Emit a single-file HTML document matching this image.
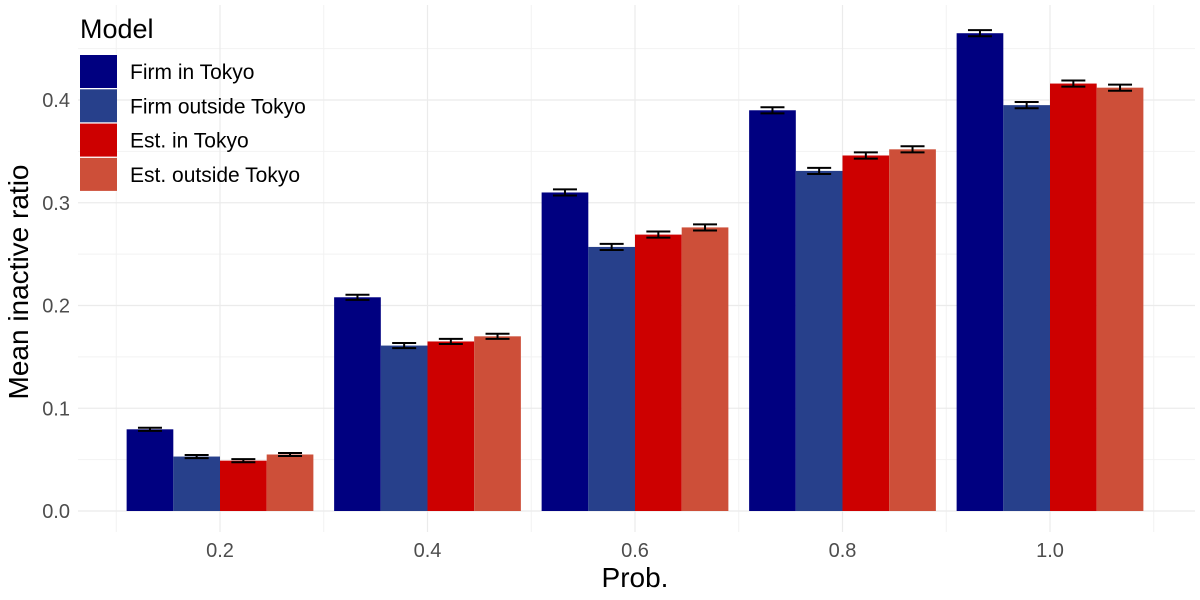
<!DOCTYPE html>
<html><head><meta charset="utf-8"><style>
html,body{margin:0;padding:0;background:#fff;}
svg{display:block;font-family:"Liberation Sans",sans-serif;}
</style></head><body>
<svg id="chart" width="1200" height="600"></svg>
<script>
const categories = ["0.2","0.4","0.6","0.8","1.0"];
const seriesNames = ["Firm in Tokyo","Firm outside Tokyo","Est. in Tokyo","Est. outside Tokyo"];
const firmTokyo = [0.0795,0.208,0.310,0.390,0.465];
const firmOutside = [0.053,0.161,0.257,0.331,0.395];
const estTokyo = [0.049,0.165,0.269,0.346,0.416];
const estOutside = [0.055,0.170,0.276,0.352,0.412];
const errHalf = [0.0015,0.0025,0.003,0.003,0.003];
const yTicks = [0,0.1,0.2,0.3,0.4];
const yTickLabels = ["0.0","0.1","0.2","0.3","0.4"];
const colors = ["#000080","#27408b","#cd0000","#cd4f39"];
const series = [firmTokyo,firmOutside,estTokyo,estOutside];

const svg = document.getElementById('chart');
const NS = "http://www.w3.org/2000/svg";
function mk(tag, attrs, parent){const e=document.createElementNS(NS,tag);for(const k in attrs)e.setAttribute(k,attrs[k]);(parent||svg).appendChild(e);return e;}
const y0=511, pxPerUnit=1027.5;
function yS(v){return y0 - v*pxPerUnit;}
const step=207.5, x0=220;
function xS(i){return x0 + i*step;}
const groupW = step*0.9, barW = groupW/4;

const grid = mk('g',{});


for(let v=0.05; v<0.48; v+=0.1){mk('line',{x1:78,x2:1195,y1:yS(v),y2:yS(v),stroke:'#f2f2f2','stroke-width':1},grid);}
for(let i=0;i<=categories.length;i++){const x=xS(i)-step/2;mk('line',{x1:x,x2:x,y1:5,y2:532,stroke:'#f2f2f2','stroke-width':1},grid);}
yTicks.forEach(v=>mk('line',{x1:78,x2:1195,y1:yS(v),y2:yS(v),stroke:'#ebebeb','stroke-width':1.2},grid));
categories.forEach((c,i)=>mk('line',{x1:xS(i),x2:xS(i),y1:5,y2:532,stroke:'#ebebeb','stroke-width':1.2},grid));

series.forEach((s,si)=>{
  s.forEach((v,i)=>{
    const x = xS(i)-groupW/2 + si*barW;
    const r = mk('rect',{x:x,y:yS(v),width:barW,height:y0-yS(v),fill:colors[si]});
    
    
    const cx = x+barW/2, e=errHalf[i];
    const g = mk('g',{stroke:'#000','stroke-width':2});
    
    
    mk('line',{x1:cx,x2:cx,y1:yS(v+e),y2:yS(v-e)},g);
    mk('line',{x1:cx-12,x2:cx+12,y1:yS(v+e),y2:yS(v+e)},g);
    mk('line',{x1:cx-12,x2:cx+12,y1:yS(v-e),y2:yS(v-e)},g);
  });
});

yTicks.forEach((v,i)=>{const t=mk('text',{x:70,y:yS(v)+7,'text-anchor':'end','font-size':20,fill:'#4d4d4d'});t.textContent=yTickLabels[i];
});
categories.forEach((c,i)=>{const t=mk('text',{x:xS(i),y:557,'text-anchor':'middle','font-size':20,fill:'#4d4d4d'});t.textContent=c;
});

let t=mk('text',{x:635,y:587,'text-anchor':'middle','font-size':28,fill:'#000'});t.textContent='Prob.';

t=mk('text',{x:0,y:0,transform:'translate(28,282) rotate(-90)','text-anchor':'middle','font-size':28,fill:'#000'});t.textContent='Mean inactive ratio';


const lg = mk('g',{});


t=mk('text',{x:80,y:38,'font-size':27,fill:'#000'},lg);t.textContent='Model';

seriesNames.forEach((n,i)=>{
  const y=55+i*34.3;
  const g=mk('g',{},lg);
  
  
  mk('rect',{x:80,y:y,width:37,height:33,fill:colors[i]},g);
  const tt=mk('text',{x:130,y:y+24,'font-size':21,fill:'#000'},g);tt.textContent=n;
});
</script>
</body></html>
